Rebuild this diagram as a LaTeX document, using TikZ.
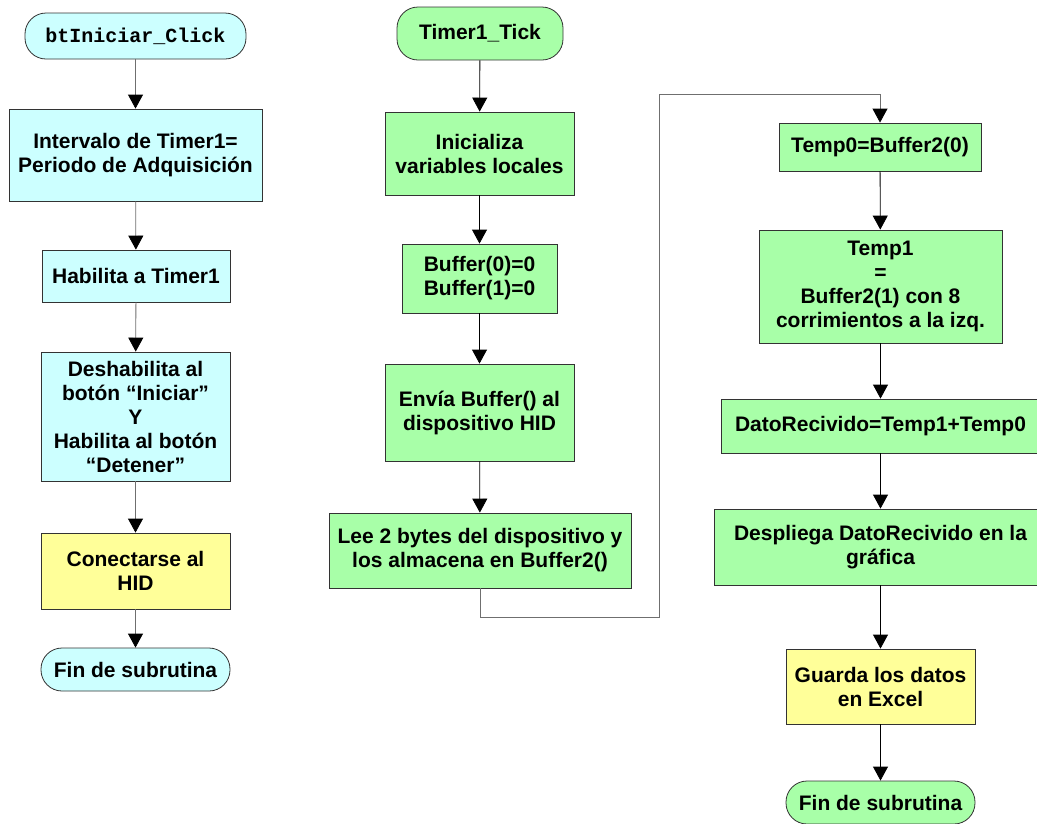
\documentclass[tikz,border=0pt]{standalone}
\usepackage{fontspec}
\setmainfont{Liberation Sans}
\setmonofont{Liberation Mono}
\usetikzlibrary{arrows.meta}

\definecolor{cian}{HTML}{CCFFFF}
\definecolor{verde}{HTML}{A8FFA8}
\definecolor{amarillo}{HTML}{FFFF99}
\definecolor{gris}{HTML}{6F6F6F}

\begin{document}
\begin{tikzpicture}[x=1pt,y=-1pt,
  >={Triangle[length=14pt,width=15pt,black]},
  caja/.style={draw=black!80,line width=0.8pt,inner sep=0pt,align=center,
    font=\fontsize{21}{24}\selectfont\bfseries},
  termino/.style={caja,rounded corners=21pt},
  flecha/.style={->,line width=0.8pt}]
  \useasboundingbox (0,0) rectangle (1037,823);

  % columna 1: btIniciar_Click
  \node[termino,fill=cian,minimum width=221pt,minimum height=46pt,
        font=\fontsize{20}{24}\selectfont\ttfamily\bfseries] (ini1) at (135.5,36) {btIniciar\_Click};
  \node[caja,fill=cian,minimum width=253pt,minimum height=92pt] (intervalo) at (135.5,155) {Intervalo de Timer1=\\Periodo de Adquisición};
  \node[caja,fill=cian,minimum width=188pt,minimum height=52pt] (habilita) at (136,276) {Habilita a Timer1};
  \node[caja,fill=cian,minimum width=189pt,minimum height=129pt] (deshab) at (135.5,416.5) {Deshabilita al\\botón “Iniciar”\\Y\\Habilita al botón\\“Detener”};
  \node[caja,fill=amarillo,minimum width=189pt,minimum height=76pt] (conectar) at (135.5,571) {Conectarse al\\HID};
  \node[termino,fill=cian,minimum width=189pt,minimum height=43pt] (fin1) at (135.5,669.5) {Fin de subrutina};

  % columna 2: Timer1_Tick
  \node[termino,fill=verde,minimum width=166pt,minimum height=53pt] (ini2) at (480,33.5) {Timer1\_Tick};
  \node[caja,fill=verde,minimum width=189pt,minimum height=83pt] (inicializa) at (479.5,153.5) {Inicializa\\variables locales};
  \node[caja,fill=verde,minimum width=155pt,minimum height=69pt] (buffer) at (479.5,278.5) {Buffer(0)=0\\Buffer(1)=0};
  \node[caja,fill=verde,minimum width=189pt,minimum height=97pt] (envia) at (479.5,412.5) {Envía Buffer() al\\dispositivo HID};
  \node[caja,fill=verde,minimum width=302pt,minimum height=75pt] (lee) at (480,550.5) {Lee 2 bytes del dispositivo y\\los almacena en Buffer2()};

  % columna 3
  \node[caja,fill=verde,minimum width=202pt,minimum height=48pt] (temp0) at (880,147) {Temp0=Buffer2(0)};
  \node[caja,fill=verde,minimum width=243pt,minimum height=113pt] (temp1) at (880.5,286.5) {Temp1\\=\\Buffer2(1) con 8\\corrimientos a la izq.};
  \node[caja,fill=verde,minimum width=319pt,minimum height=54pt] (dato) at (880.5,426) {DatoRecivido=Temp1+Temp0};
  \node[caja,fill=verde,minimum width=333pt,minimum height=76pt] (despliega) at (880.5,547) {Despliega DatoRecivido en la\\gráfica};
  \node[caja,fill=amarillo,minimum width=189pt,minimum height=75pt] (guarda) at (880.5,686.5) {Guarda los datos\\en Excel};
  \node[termino,fill=verde,minimum width=189pt,minimum height=43pt] (fin2) at (880.5,802.5) {Fin de subrutina};

  \coordinate (c1) at (659,617);
  \coordinate (c2) at (659,94);

  \path[flecha,draw=gris]
    (ini1)      edge (intervalo)
    (intervalo) edge (habilita)
    (habilita)  edge (deshab)
    (deshab)    edge (conectar)
    (conectar)  edge (fin1);
  \path[flecha]
    (ini2)       edge (inicializa)
    (inicializa) edge (buffer)
    (buffer)     edge (envia)
    (envia)      edge (lee)
    (temp0)      edge (temp1)
    (temp1)      edge (dato)
    (dato)       edge (despliega)
    (despliega)  edge (guarda)
    (guarda)     edge (fin2);
  \draw[flecha,draw=gris] (lee.south) |- (c1) -- (c2) -| (temp0.north);
\end{tikzpicture}
\end{document}
